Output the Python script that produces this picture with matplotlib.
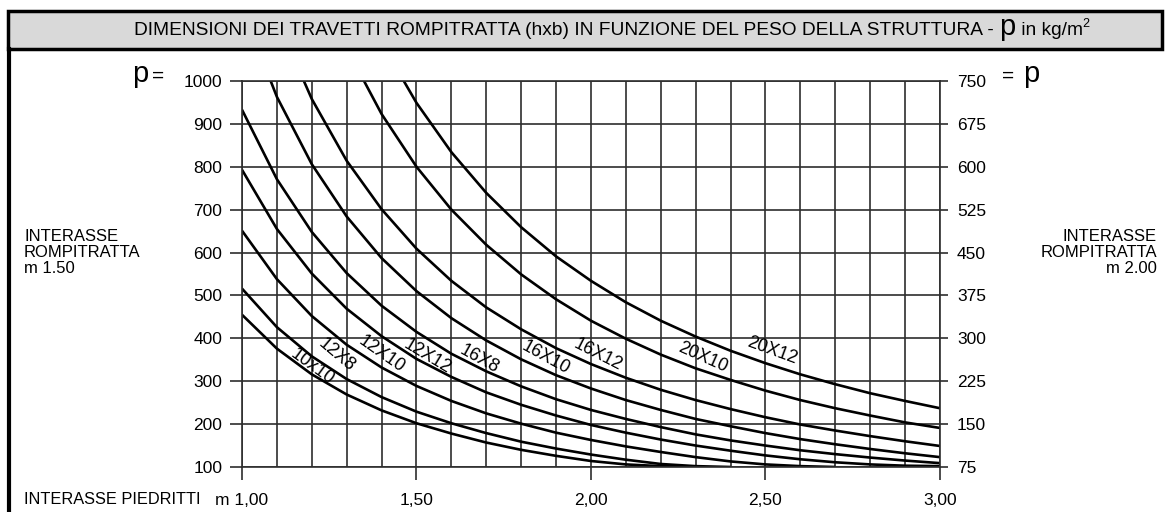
import matplotlib
matplotlib.use("Agg")
import matplotlib.pyplot as plt
import numpy as np
from matplotlib.patches import Rectangle
from matplotlib.lines import Line2D

plt.rcParams['font.family'] = ['Liberation Sans', 'DejaVu Sans']

nan = np.nan

# interasse piedritti (m)
interasse = [1.0, 1.1, 1.2, 1.3, 1.4, 1.5, 1.6, 1.7, 1.8, 1.9, 2.0,
             2.1, 2.2, 2.3, 2.4, 2.5, 2.6, 2.7, 2.8, 2.9, 3.0]

# p (kg/m2), interasse rompitratta 1.50 m
sezioni = ["10x10", "12X8", "12X10", "12X12", "16X8", "16X10", "16X12", "20X10", "20X12"]
p_10x10 = [455, 376, 316, 269, 232, 202, 178, 157, 140, 126, 114, 106, 102, 100,
           nan, nan, nan, nan, nan, nan, nan]
p_12x8 = [516, 426, 358, 305, 263, 229, 202, 179, 159, 143, 129, 117, 107, 102, 100,
          nan, nan, nan, nan, nan, nan]
p_12x10 = [651, 538, 452, 385, 332, 289, 254, 225, 201, 180, 163, 148, 135, 123, 113,
           106, 102, 100, nan, nan, nan]
p_12x12 = [793, 655, 551, 469, 405, 352, 310, 274, 245, 220, 198, 180, 164, 150, 138,
           127, 118, 111, 106, 103, 102]
p_16x8 = [933, 771, 648, 552, 476, 415, 364, 323, 288, 258, 233, 212, 193, 176, 162,
          150, 139, 130, 122, 115, 109]
p_16x10 = [1171, 963, 806, 684, 587, 510, 447, 395, 351, 314, 283, 256, 233, 212, 195,
           179, 165, 153, 142, 132, 123]
p_16x12 = [1387, 1143, 958, 814, 701, 609, 534, 472, 421, 377, 340, 308, 280, 256, 235,
           216, 199, 185, 172, 160, 149]
p_20x10 = [nan, nan, nan, 1076, 923, 800, 700, 618, 549, 491, 441, 399, 362, 330, 303,
           278, 256, 237, 220, 204, 191]
p_20x12 = [nan, nan, nan, nan, 1089, 949, 834, 739, 659, 591, 534, 484, 441, 404, 371,
           342, 316, 293, 272, 254, 237]
curve = [p_10x10, p_12x8, p_12x10, p_12x12, p_16x8, p_16x10, p_16x12, p_20x10, p_20x12]

# where the section names sit along the curves (L, p, angle)
label_pos = [(1.20, 333, -36), (1.27, 362, -40), (1.40, 362, -35), (1.53, 357, -31),
             (1.68, 351, -29), (1.87, 355, -29), (2.02, 361, -27), (2.32, 355, -24),
             (2.52, 371, -20)]

left_ticks = [100, 200, 300, 400, 500, 600, 700, 800, 900, 1000]
right_ticks = [75, 150, 225, 300, 375, 450, 525, 600, 675, 750]
x_ticks = [1.0, 1.5, 2.0, 2.5, 3.0]
x_ticklabels = ["m 1,00", "1,50", "2,00", "2,50", "3,00"]

W, H = 1165, 512
fig = plt.figure(figsize=(W / 100, H / 100), dpi=100)

def fx(px):
    return px / W

def fy(py):
    return 1 - py / H

gridc = "#2e2e2e"

ax = fig.add_axes([fx(242), fy(467), 698 / W, 386 / H])
ax.set_xlim(1, 3)
ax.set_ylim(100, 1000)
ax.set_xticks(x_ticks)
ax.set_xticklabels(x_ticklabels)
ax.set_xticks(np.arange(1.0, 3.01, 0.1), minor=True)
ax.set_yticks(left_ticks)
ax.grid(which="both", axis="x", color=gridc, lw=1.2)
ax.grid(which="major", axis="y", color=gridc, lw=1.2)
ax.tick_params(axis="x", which="major", length=9.5, width=1.2, color=gridc,
               pad=9, labelsize=12.5)
ax.tick_params(axis="x", which="minor", length=0)
ax.tick_params(axis="y", length=8.6, width=1.2, color=gridc, pad=5.5, labelsize=12.5)
for s in ax.spines.values():
    s.set_color(gridc)
    s.set_linewidth(1.2)

for vals in curve:
    ax.plot(interasse, vals, color="black", lw=1.9, solid_capstyle="butt")

for name, (lx, ly, ang) in zip(sezioni, label_pos):
    ax.text(lx, ly, name, rotation=ang, ha="center", va="center", fontsize=13,
            rotation_mode="anchor")

ax2 = ax.twinx()
ax2.set_ylim(75, 750)
ax2.set_yticks(right_ticks)
ax2.tick_params(axis="y", length=5.8, width=1.2, color=gridc, pad=6.5, labelsize=12.5)
for s in ax2.spines.values():
    s.set_visible(False)

# side labels
fig.text(fx(24), fy(229), "INTERASSE\nROMPITRATTA\nm 1.50", ha="left", va="top",
         fontsize=12, linespacing=1.1)
fig.text(fx(1157), fy(229), "INTERASSE\nROMPITRATTA\nm 2.00", ha="right", va="top",
         fontsize=12, linespacing=1.1, multialignment="right")
fig.text(fx(24), fy(500), "INTERASSE PIEDRITTI", ha="left", va="center", fontsize=11.8)
fig.text(fx(148), fy(74), "p", ha="right", va="center", fontsize=21)
fig.text(fx(152), fy(76), "=", ha="left", va="center", fontsize=15)
fig.text(fx(1002), fy(76), "=", ha="left", va="center", fontsize=15)
fig.text(fx(1023), fy(74), "p", ha="left", va="center", fontsize=21)

# frame and header
fig.patches.append(Rectangle((fx(8), fy(49)), (1162 - 8) / W, 38 / H,
                             transform=fig.transFigure, facecolor="#d9d9d9",
                             edgecolor="black", lw=2.5, zorder=0))
fig.lines.append(Line2D([fx(8.5), fx(8.5)], [fy(49), 0], transform=fig.transFigure,
                        color="black", lw=3))

# title, the "p" drawn bigger
t1 = fig.text(0, fy(35), "DIMENSIONI DEI TRAVETTI ROMPITRATTA (hxb) IN FUNZIONE DEL PESO DELLA STRUTTURA - ",
              fontsize=13.8, va="baseline")
t2 = fig.text(0, fy(35), "p", fontsize=21, va="baseline")
t3 = fig.text(0, fy(35), " in kg/m", fontsize=13.8, va="baseline")
t4 = fig.text(0, fy(27), "2", fontsize=9, va="baseline")
r = fig.canvas.get_renderer()
ws = [t.get_window_extent(r).width for t in (t1, t2, t3, t4)]
x0 = 612 - sum(ws) / 2
for t, w in zip((t1, t2, t3, t4), ws):
    t.set_x(fx(x0))
    x0 += w

fig.savefig("out.png", dpi=100)
